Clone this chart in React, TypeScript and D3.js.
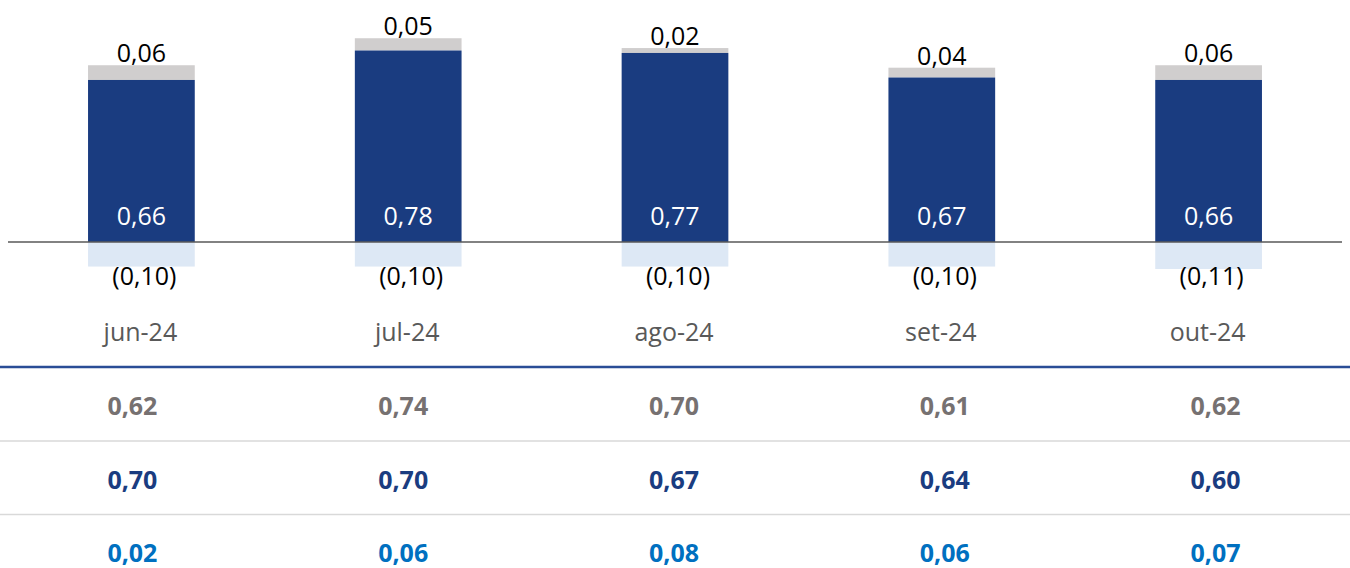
import * as React from "react";
import * as d3 from "d3";

const months = ["jun-24", "jul-24", "ago-24", "set-24", "out-24"];
const mainValues = [0.66, 0.78, 0.77, 0.67, 0.66];
const topValues = [0.06, 0.05, 0.02, 0.04, 0.06];
const negValues = [-0.1, -0.1, -0.1, -0.1, -0.11];

const rowGray = [0.62, 0.74, 0.70, 0.61, 0.62];
const rowDark = [0.70, 0.70, 0.67, 0.64, 0.60];
const rowBlue = [0.02, 0.06, 0.08, 0.06, 0.07];

const W = 1350;
const H = 568;
const FONT = "'Open Sans', 'Noto Sans', sans-serif";

// number formatting with a decimal comma, negatives in parentheses
const fmt = (v: number) => {
  const s = d3.format(".2f")(Math.abs(v)).replace(".", ",");
  return v < 0 ? "(" + s + ")" : s;
};

export default function App() {
  const x = d3.scaleBand<string>().domain(months).range([8, 1342]).paddingInner(0.6).paddingOuter(0.3);
  const y = d3.scaleLinear().domain([-0.2, 0.9]).range([291.1, 21.05]);
  const xt = d3.scaleBand<string>().domain(months).range([-3, 1351]);

  const bw = x.bandwidth();
  const rows = [
    { vals: rowGray, color: "#767171", y: 415 },
    { vals: rowDark, color: "#1a3c80", y: 489 },
    { vals: rowBlue, color: "#0070c0", y: 562 },
  ];

  return (
    <svg width={W} height={H} style={{ position: "absolute", left: 0, top: 0, background: "#fff" }} fontFamily={FONT}>
      {months.map((m, i) => {
        const x0 = x(m)!;
        const cx = x0 + bw / 2;
        const main = mainValues[i];
        const top = topValues[i];
        const neg = negValues[i];
        return (
          <g key={m}>
            <rect x={x0} y={y(main + top)} width={bw} height={y(main) - y(main + top)} fill="#d0cece" />
            <rect x={x0} y={y(main)} width={bw} height={y(0) - y(main)} fill="#1a3c80" />
            <rect x={x0} y={y(0)} width={bw} height={y(neg) - y(0)} fill="#dde8f5" />
            <text x={cx} y={y(main + top) - 3} textAnchor="middle" fontSize={25} fill="#000">{fmt(top)}</text>
            <text x={cx} y={y(0) - 17} textAnchor="middle" fontSize={25} fill="#fff">{fmt(main)}</text>
            <text x={cx + 3} y={y(0) + 43} textAnchor="middle" fontSize={25} fill="#000">{fmt(neg)}</text>
            <text x={cx - 1} y={341} textAnchor="middle" fontSize={25} fill="#595959">{m}</text>
          </g>
        );
      })}
      <line x1={8} x2={1342} y1={y(0)} y2={y(0)} stroke="#595959" strokeWidth={1.5} />

      <line x1={0} x2={W} y1={367} y2={367} stroke="#2a4d96" strokeWidth={2.5} />
      <line x1={0} x2={W} y1={441} y2={441} stroke="#d9d9d9" strokeWidth={1.5} />
      <line x1={0} x2={W} y1={514.5} y2={514.5} stroke="#d9d9d9" strokeWidth={1.5} />
      {rows.map((r, ri) => (
        <g key={ri}>
          {months.map((m, i) => (
            <text key={m} x={xt(m)! + xt.bandwidth() / 2} y={r.y} textAnchor="middle" fontSize={25} fontWeight={700} fill={r.color}>
              {fmt(r.vals[i])}
            </text>
          ))}
        </g>
      ))}
    </svg>
  );
}
